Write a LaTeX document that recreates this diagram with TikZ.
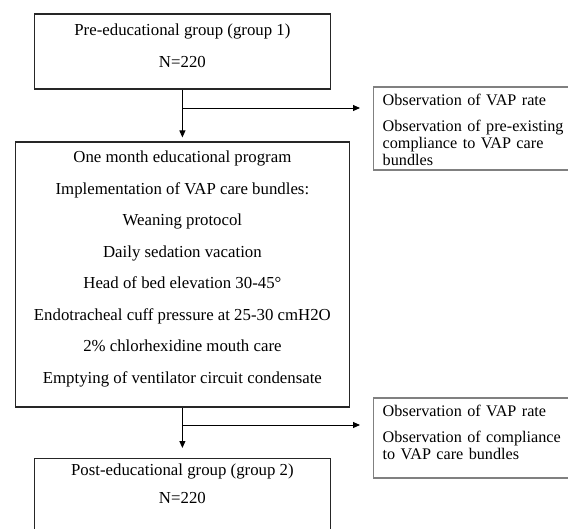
\documentclass[tikz,border=0pt]{standalone}
\usepackage{fontspec}
\setmainfont{Liberation Serif}
\usetikzlibrary{arrows.meta}
% struts that deepen the last line / raise the first line of a box
\newcommand{\padbelow}[1]{\rule[-#1]{0pt}{#1}}
\newcommand{\padabove}[1]{\rule{0pt}{#1}}

\begin{document}
\begin{tikzpicture}[x=1pt,y=-1pt,
  stagebox/.style={draw=black!85,line width=1.1pt,align=center,inner sep=0pt,
    font=\fontsize{16.8}{31.5}\selectfont},
  obsbox/.style={draw=black!50,line width=1.4pt,align=left,text width=250pt,
    inner xsep=9pt,inner ysep=0pt,anchor=west,font=\fontsize{16.2}{17}\selectfont},
  flow/.style={line width=0.9pt,-{Triangle[length=7pt,width=6pt]}}]
  \useasboundingbox (0,0) rectangle (568,528);
  \clip (0,0) rectangle (568,528);

  % main stages
  \node[stagebox,minimum width=296pt,minimum height=75pt] (pre) at (182.4,51.5)
    {Pre-educational group (group 1)\\N=220\padbelow{11.3pt}};
  \node[stagebox,minimum width=334pt,minimum height=265pt] (prog) at (182.4,274.5)
    {One month educational program\\Implementation of VAP care bundles:\\Weaning protocol\\
     Daily sedation vacation\\Head of bed elevation 30-45°\\
     Endotracheal cuff pressure at 25-30 cmH2O\\2\% chlorhexidine mouth care\\
     Emptying of ventilator circuit condensate\padbelow{14.4pt}};
  \node[stagebox,minimum width=296pt,minimum height=75pt,anchor=north] (post) at (182.4,458)
    {Post-educational group (group 2)\\[-3.5pt]N=220\padbelow{25.4pt}};

  % observations
  \node[obsbox,minimum height=83pt] (obs1) at (373,128.5)
    {\padabove{14.6pt}Observation of VAP rate\\[9pt]Observation of pre-existing\\compliance to VAP care\\bundles};
  \node[obsbox,minimum height=80pt] (obs2) at (373,438)
    {Observation of VAP rate\\[9pt]Observation of compliance\\to VAP care bundles\padbelow{12.1pt}};

  % arrows
  \coordinate (split1) at (182.4,108);
  \coordinate (split2) at (182.4,425);
  \draw[flow,shorten >=4pt] (pre) -- (prog);
  \draw[flow,shorten >=13pt] (split1) -- (split1 -| obs1.west);
  \draw[flow,shorten >=10pt] (prog) -- (post);
  \draw[flow,shorten >=13pt] (split2) -- (split2 -| obs2.west);
\end{tikzpicture}
\end{document}
